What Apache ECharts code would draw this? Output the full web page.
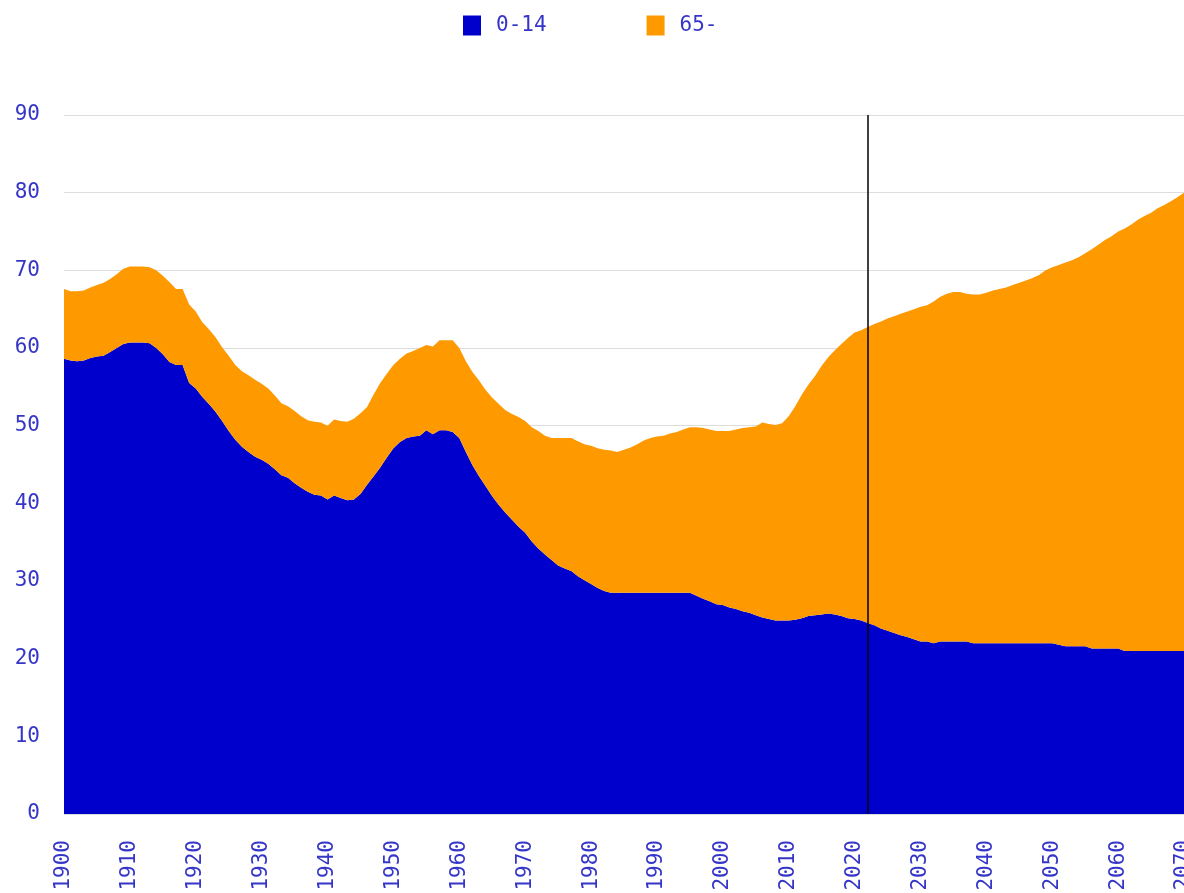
<!DOCTYPE html>
<html>
<head>
<meta charset="utf-8">
<title>0-14 / 65-</title>
<script src="https://cdn.jsdelivr.net/npm/echarts@6/dist/echarts.min.js"></script>
<style>
  html, body { margin: 0; padding: 0; background: #fff; }
  #chart { width: 1184px; height: 893px; }
</style>
</head>
<body>
<div id="chart"></div>
<script>
// years 1900 .. 2070
const years = [];
for (let y = 1900; y <= 2070; y++) years.push(String(y));

const markYear = "2022";

// 0-14 share (1900..2070)
const young = [
  58.6, 58.4, 58.3, 58.4, 58.7, 58.9, 59.0, 59.5, 60.0, 60.5,
  60.7, 60.7, 60.7, 60.6, 60.0, 59.2, 58.2, 57.8, 57.8, 55.5,
  54.8, 53.7, 52.8, 51.8, 50.6, 49.3, 48.2, 47.3, 46.6, 46.0,
  45.6, 45.1, 44.4, 43.6, 43.3, 42.6, 42.0, 41.5, 41.1, 41.0,
  40.5, 41.0, 40.7, 40.4, 40.5, 41.2, 42.4, 43.5, 44.6, 45.9,
  47.1, 47.9, 48.4, 48.6, 48.7, 49.4, 48.9, 49.4, 49.4, 49.2,
  48.4, 46.6, 44.9, 43.5, 42.2, 40.9, 39.8, 38.8, 37.9, 37.0,
  36.2, 35.1, 34.2, 33.4, 32.7, 32.0, 31.6, 31.3, 30.6, 30.1,
  29.6, 29.1, 28.7, 28.5, 28.5, 28.5, 28.5, 28.5, 28.5, 28.5,
  28.5, 28.5, 28.5, 28.5, 28.5, 28.5, 28.1, 27.7, 27.4, 27.0,
  26.9, 26.6, 26.4, 26.1, 25.9, 25.6, 25.3, 25.1, 24.9, 24.9,
  24.9, 25.0, 25.2, 25.5, 25.6, 25.7, 25.8, 25.7, 25.5, 25.2,
  25.1, 24.9, 24.6, 24.3, 23.9, 23.6, 23.3, 23.0, 22.8, 22.5,
  22.2, 22.2, 22.0, 22.2, 22.2, 22.2, 22.2, 22.2, 22.0, 22.0,
  22.0, 22.0, 22.0, 22.0, 22.0, 22.0, 22.0, 22.0, 22.0, 22.0,
  22.0, 21.8, 21.6, 21.6, 21.6, 21.6, 21.3, 21.3, 21.3, 21.3,
  21.3, 21.0, 21.0, 21.0, 21.0, 21.0, 21.0, 21.0, 21.0, 21.0,
  21.0
];

// 65- share, stacked on top of 0-14
const old = [
  9.0, 8.9, 9.0, 9.0, 9.1, 9.2, 9.4, 9.4, 9.5, 9.7,
  9.8, 9.8, 9.8, 9.8, 10.0, 10.1, 10.3, 9.8, 9.8, 10.1,
  9.9, 9.6, 9.6, 9.6, 9.5, 9.7, 9.6, 9.7, 9.9, 9.9,
  9.8, 9.7, 9.5, 9.3, 9.2, 9.3, 9.2, 9.2, 9.4, 9.4,
  9.5, 9.8, 9.9, 10.1, 10.4, 10.4, 10.0, 10.5, 10.9, 10.8,
  10.7, 10.7, 10.9, 11.0, 11.3, 11.0, 11.3, 11.6, 11.6, 11.8,
  11.6, 11.7, 12.0, 12.3, 12.4, 12.7, 13.0, 13.2, 13.6, 14.1,
  14.4, 14.7, 15.1, 15.3, 15.7, 16.4, 16.8, 17.1, 17.4, 17.5,
  17.8, 18.0, 18.2, 18.3, 18.1, 18.4, 18.7, 19.1, 19.6, 19.9,
  20.1, 20.2, 20.5, 20.7, 21.0, 21.3, 21.7, 22.0, 22.1, 22.3,
  22.4, 22.7, 23.1, 23.6, 23.9, 24.3, 25.1, 25.1, 25.2, 25.4,
  26.3, 27.5, 28.8, 29.8, 30.8, 32.0, 33.0, 34.0, 35.0, 36.1,
  36.9, 37.4, 38.1, 38.8, 39.5, 40.2, 40.8, 41.4, 41.9, 42.5,
  43.1, 43.3, 44.0, 44.4, 44.8, 45.0, 45.0, 44.8, 44.9, 44.9,
  45.1, 45.4, 45.6, 45.8, 46.1, 46.4, 46.7, 47.0, 47.4, 48.0,
  48.4, 48.9, 49.4, 49.7, 50.1, 50.6, 51.4, 52.0, 52.6, 53.1,
  53.7, 54.4, 54.9, 55.5, 56.0, 56.4, 57.0, 57.4, 57.9, 58.4,
  59.0
];

const textColor = "#3535c8";
const font = "'DejaVu Sans Mono', 'Liberation Mono', monospace";

const chart = echarts.init(document.getElementById("chart"));
chart.setOption({
  animation: false,
  backgroundColor: "#fff",
  legend: {
    top: 10,
    left: 458,
    icon: "rect",
    itemWidth: 18,
    itemHeight: 20,
    itemGap: 100,
    textStyle: {
      color: textColor,
      fontFamily: font,
      fontSize: 21,
      padding: [0, 0, 0, 10]
    },
    data: ["0-14", "65-"]
  },
  grid: {
    left: 64,
    right: 0,
    top: 115,
    bottom: 79,
    outerBoundsMode: "none"
  },
  xAxis: {
    type: "category",
    data: years,
    boundaryGap: false,
    axisLine: { show: false },
    axisTick: { show: false },
    axisLabel: {
      rotate: 90,
      margin: 26,
      color: textColor,
      fontFamily: font,
      fontSize: 21,
      hideOverlap: false,
      interval: function (idx) {
        return idx % 10 === 0;
      }
    }
  },
  yAxis: {
    type: "value",
    min: 0,
    max: 90,
    interval: 10,
    axisLine: { show: false },
    axisTick: { show: false },
    axisLabel: {
      margin: 24,
      color: textColor,
      fontFamily: font,
      fontSize: 21
    },
    splitLine: { lineStyle: { color: "#dddddd", width: 1 } }
  },
  series: [
    {
      name: "0-14",
      type: "line",
      stack: "total",
      data: young,
      showSymbol: false,
      lineStyle: { width: 0 },
      itemStyle: { color: "#0000cc" },
      areaStyle: { color: "#0000cc", opacity: 1 }
    },
    {
      name: "65-",
      type: "line",
      stack: "total",
      data: old,
      showSymbol: false,
      lineStyle: { width: 0 },
      itemStyle: { color: "#ff9900" },
      areaStyle: { color: "#ff9900", opacity: 1 },
      markLine: {
        silent: true,
        symbol: "none",
        label: { show: false },
        lineStyle: { color: "#000", width: 1.5, type: "solid" },
        data: [{ xAxis: markYear }]
      }
    }
  ]
});

window.addEventListener("resize", function () {
  chart.resize();
});
</script>
</body>
</html>
